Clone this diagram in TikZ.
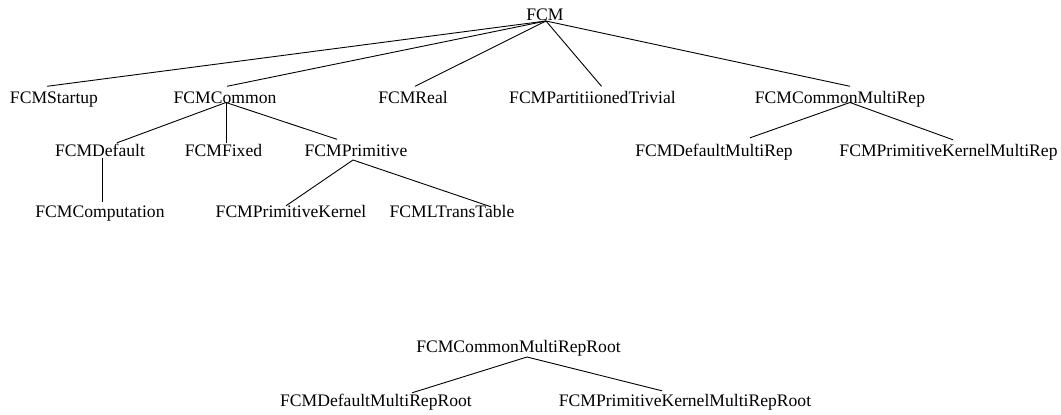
\documentclass[tikz,border=0pt]{standalone}
\usepackage{fontspec}
\setmainfont{Liberation Serif}
\begin{document}
\begin{tikzpicture}[x=1pt,y=-1pt,
  cls/.style={anchor=base, inner sep=0pt, text height=15pt, text depth=7pt,
              font=\fontsize{17.6}{20}\selectfont},
  link/.style={line width=0.9pt, black}]
\useasboundingbox (0,0) rectangle (1061,415);

% class names, placed by baseline
\node[cls] (fcm)    at (545,20.5)   {FCM};
\node[cls] (startup) at (54,103.5)  {FCMStartup};
\node[cls] (common) at (225,103.5)  {FCMCommon};
\node[cls] (real)   at (413,103.5)  {FCMReal};
\node[cls] (part)   at (592.5,103.5) {FCMPartitiionedTrivial};
\node[cls] (cmr)    at (840,103.5)  {FCMCommonMultiRep};
\node[cls] (default) at (100,156)   {FCMDefault};
\node[cls] (fixed)  at (223.5,156)  {FCMFixed};
\node[cls] (prim)   at (356,156)    {FCMPrimitive};
\node[cls] (dmr)    at (714,156)    {FCMDefaultMultiRep};
\node[cls] (pkmr)   at (948.5,156)  {FCMPrimitiveKernelMultiRep};
\node[cls] (comp)   at (100,217.5)  {FCMComputation};
\node[cls] (pk)     at (291,217.5)  {FCMPrimitiveKernel};
\node[cls] (ltt)    at (452,217.5)  {FCMLTransTable};
\node[cls] (cmrr)   at (518.5,352)  {FCMCommonMultiRepRoot};
\node[cls] (dmrr)   at (376,406)    {FCMDefaultMultiRepRoot};
\node[cls] (pkmrr)  at (685,406)    {FCMPrimitiveKernelMultiRepRoot};

% inheritance links
\draw[link] ([xshift=1pt,yshift=-0.5pt]fcm.base) -- ([xshift=-7pt,yshift=2pt]startup.north);
\draw[link] ([xshift=1pt,yshift=-0.5pt]fcm.base) -- ([xshift=2pt,yshift=2pt]common.north);
\draw[link] ([xshift=1pt,yshift=-0.5pt]fcm.base) -- ([xshift=2pt,yshift=2pt]real.north);
\draw[link] ([xshift=1pt,yshift=-0.5pt]fcm.base) -- ([xshift=9pt,yshift=2pt]part.north);
\draw[link] ([xshift=1pt,yshift=-0.5pt]fcm.base) -- ([xshift=10pt,yshift=2pt]cmr.north);

\draw[link] ([xshift=1pt,yshift=1pt]common.base) -- ([xshift=17pt,yshift=-2pt]default.north);
\draw[link] ([xshift=1pt,yshift=1pt]common.base) -- ([xshift=2.5pt,yshift=-2pt]fixed.north);
\draw[link] ([xshift=1pt,yshift=1pt]common.base) -- ([xshift=-19pt,yshift=1.5pt]prim.north);

\draw[link] ([xshift=10pt,yshift=1pt]cmr.base) -- ([xshift=36pt,yshift=3pt]dmr.north);
\draw[link] ([xshift=10pt,yshift=1pt]cmr.base) -- ([xshift=4.5pt,yshift=1pt]pkmr.north);

\draw[link] ([xshift=2pt,yshift=-2pt]default.base) -- ([xshift=2pt]comp.north);
\draw[link] ([xshift=-3pt,yshift=-4pt]prim.base) -- ([xshift=-5pt,yshift=-3.5pt]pk.north);
\draw[link] ([xshift=-3pt,yshift=-4pt]prim.base) -- ([xshift=39pt,yshift=-4.5pt]ltt.north);

\draw[link] ([xshift=8.5pt,yshift=-5pt]cmrr.base) -- ([xshift=36pt,yshift=-2pt]dmrr.north);
\draw[link] ([xshift=8.5pt,yshift=-5pt]cmrr.base) -- ([xshift=-23pt]pkmrr.north);
\end{tikzpicture}
\end{document}
